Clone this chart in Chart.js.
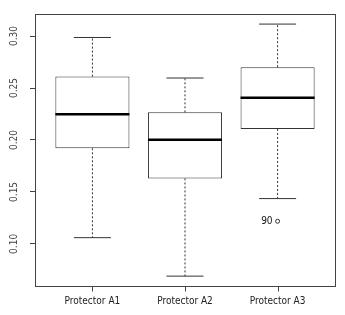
<!DOCTYPE html>
<html>
<head>
<meta charset="utf-8">
<script src="https://cdn.jsdelivr.net/npm/chart.js@4/dist/chart.umd.min.js"></script>
<style>
  html, body { margin: 0; padding: 0; background: #fff; }
  #wrap { width: 345px; height: 315px; }
</style>
</head>
<body>
<div id="wrap"><canvas id="myChart" width="345" height="315"></canvas></div>
<script>
// box plot values
var categories = ['Protector A1', 'Protector A2', 'Protector A3'];
var lowerWhisker = [0.106, 0.069, 0.1436];
var q1 = [0.192, 0.163, 0.2106];
var median = [0.2247, 0.2003, 0.2407];
var q3 = [0.261, 0.2266, 0.270];
var upperWhisker = [0.2986, 0.2596, 0.3115];
var outlierGroup = [3];
var outlierValue = [0.1218];
var outlierLabel = ['90'];
var yTicks = [0.10, 0.15, 0.20, 0.25, 0.30];

var FONT = "'Liberation Sans Narrow', 'Arial Narrow', 'DejaVu Sans Condensed', sans-serif";
var halfCap = 0.2;

var boxes = [], whiskers = [], caps = [], medians = [], outliers = [];
for (var i = 0; i < categories.length; i++) {
  var x = i + 1;
  boxes.push({x: x, y: [q1[i], q3[i]]});
  whiskers.push({x: x, y: q3[i]}, {x: x, y: upperWhisker[i]}, {x: x, y: null});
  whiskers.push({x: x, y: q1[i]}, {x: x, y: lowerWhisker[i]}, {x: x, y: null});
  caps.push({x: x - halfCap, y: upperWhisker[i]}, {x: x + halfCap, y: upperWhisker[i]}, {x: x, y: null});
  caps.push({x: x - halfCap, y: lowerWhisker[i]}, {x: x + halfCap, y: lowerWhisker[i]}, {x: x, y: null});
  medians.push({x: x - 0.4, y: median[i]}, {x: x + 0.4, y: median[i]}, {x: x, y: null});
}
for (var j = 0; j < outlierValue.length; j++) {
  outliers.push({x: outlierGroup[j], y: outlierValue[j]});
}

// frame round the plot, x tick marks, outlier ids
var framePlugin = {
  id: 'frame',
  afterDatasetsDraw: function(chart) {
    var c = chart.ctx, a = chart.chartArea;
    c.save();
    c.strokeStyle = '#444';
    c.lineWidth = 1;
    c.strokeRect(Math.round(a.left) + 0.5, Math.round(a.top) + 0.5,
      Math.round(a.right - a.left), Math.round(a.bottom - a.top));
    var xs = chart.scales.x;
    var b = Math.round(a.bottom) + 0.5;
    c.beginPath();
    xs.ticks.forEach(function(t) {
      var px = Math.round(xs.getPixelForValue(t.value)) + 0.5;
      c.moveTo(px, b);
      c.lineTo(px, b + 5);
    });
    c.stroke();
    var meta = chart.getDatasetMeta(4);
    c.fillStyle = '#111';
    c.font = '10px ' + FONT;
    c.textAlign = 'right';
    c.textBaseline = 'middle';
    meta.data.forEach(function(el, k) {
      c.fillText(outlierLabel[k], el.x - 5, el.y);
    });
    c.restore();
  }
};

var ctx = document.getElementById('myChart').getContext('2d');
var myChart = new Chart(ctx, {
  type: 'bar',
  data: {
    datasets: [
      {type: 'line', data: medians, borderColor: '#000', borderWidth: 2.5, pointRadius: 0, spanGaps: false, order: 0},
      {type: 'line', data: caps, borderColor: '#333', borderWidth: 1, pointRadius: 0, spanGaps: false, order: 1},
      {type: 'line', data: whiskers, borderColor: '#333', borderWidth: 1, borderDash: [2, 2], pointRadius: 0, spanGaps: false, order: 2},
      {type: 'bar', data: boxes, backgroundColor: '#fff', borderColor: '#333', borderWidth: 1,
        borderSkipped: false, categoryPercentage: 1, barPercentage: 0.8, grouped: false, order: 3},
      {type: 'scatter', data: outliers, pointStyle: 'circle', pointRadius: 2, borderColor: '#333',
        backgroundColor: '#fff', borderWidth: 1, order: 0}
    ]
  },
  options: {
    responsive: false,
    animation: false,
    layout: {padding: {left: 0, top: 14, right: 10, bottom: 0}},
    plugins: {legend: {display: false}, tooltip: {enabled: false}},
    scales: {
      x: {
        type: 'linear',
        min: 0.38,
        max: 3.62,
        offset: false,
        afterBuildTicks: function(axis) {
          axis.ticks = categories.map(function(c, k) { return {value: k + 1}; });
        },
        afterFit: function(scale) { scale.height = 29; },
        grid: {display: false, drawOnChartArea: false, drawTicks: false},
        border: {display: false},
        ticks: {
          padding: 9,
          color: '#222',
          font: {family: FONT, size: 10},
          maxRotation: 0,
          callback: function(v) { return categories[v - 1]; }
        }
      },
      y: {
        min: 0.0595,
        max: 0.3212,
        afterBuildTicks: function(axis) {
          axis.ticks = yTicks.map(function(v) { return {value: v}; });
        },
        afterFit: function(scale) { scale.width = 35; },
        grid: {drawOnChartArea: false, drawTicks: true, tickLength: 5, tickColor: '#444'},
        border: {display: false},
        ticks: {
          padding: 6,
          color: '#444',
          crossAlign: 'center',
          minRotation: 90,
          maxRotation: 90,
          font: {family: FONT, size: 10},
          callback: function(v) { return v.toFixed(2); }
        }
      }
    }
  },
  plugins: [framePlugin]
});
</script>
</body>
</html>
